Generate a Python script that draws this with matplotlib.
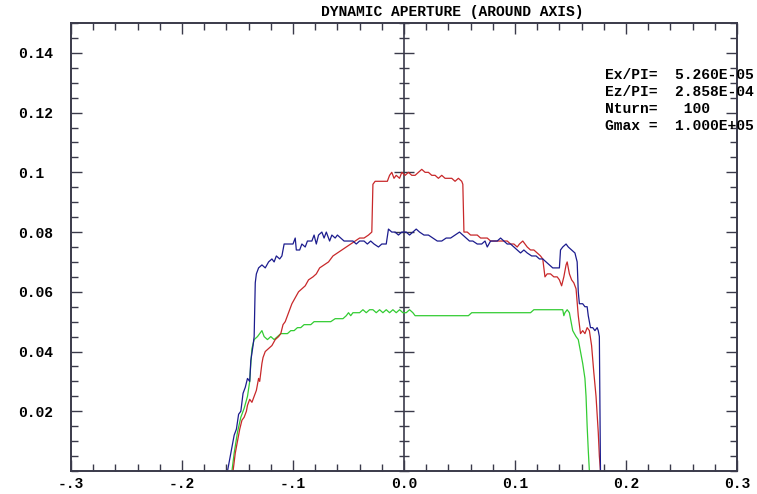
import matplotlib
matplotlib.use("Agg")
import matplotlib.pyplot as plt
from matplotlib.ticker import MultipleLocator, FixedLocator, NullFormatter

# ---------------- data ----------------
blue_x = [-0.159, -0.156, -0.153, -0.151, -0.149, -0.147, -0.145, -0.143, -0.141, -0.139,
          -0.138, -0.136, -0.135, -0.134, -0.133, -0.131, -0.128, -0.125, -0.122, -0.119,
          -0.117, -0.115, -0.112, -0.110, -0.108, -0.100, -0.098, -0.097, -0.094, -0.092,
          -0.089, -0.087, -0.083, -0.081, -0.079, -0.077, -0.074, -0.072, -0.070, -0.067,
          -0.065, -0.062, -0.060, -0.057, -0.054, -0.050, -0.046, -0.043, -0.040, -0.036,
          -0.033, -0.030, -0.027, -0.023, -0.020, -0.016, -0.014, -0.011, -0.008, -0.005,
          -0.002, 0.002, 0.005, 0.008, 0.011, 0.014, 0.018, 0.022, 0.026, 0.030,
          0.034, 0.038, 0.042, 0.046, 0.050, 0.053, 0.056, 0.059, 0.062, 0.066,
          0.070, 0.073, 0.075, 0.078, 0.081, 0.084, 0.087, 0.090, 0.093, 0.096,
          0.099, 0.102, 0.105, 0.108, 0.111, 0.115, 0.119, 0.122, 0.125, 0.128,
          0.131, 0.134, 0.137, 0.140, 0.141, 0.143, 0.146, 0.148, 0.151, 0.154,
          0.156, 0.157, 0.158, 0.161, 0.163, 0.165, 0.166, 0.168, 0.170, 0.172,
          0.174, 0.175, 0.176, 0.177]
blue_y = [0.000, 0.006, 0.012, 0.014, 0.019, 0.020, 0.026, 0.028, 0.031, 0.030,
          0.037, 0.042, 0.045, 0.063, 0.066, 0.068, 0.069, 0.068, 0.070, 0.071,
          0.070, 0.072, 0.071, 0.072, 0.076, 0.076, 0.078, 0.074, 0.074, 0.076,
          0.075, 0.077, 0.077, 0.079, 0.076, 0.079, 0.080, 0.078, 0.080, 0.077,
          0.079, 0.078, 0.079, 0.078, 0.077, 0.077, 0.077, 0.076, 0.077, 0.077,
          0.076, 0.077, 0.076, 0.075, 0.076, 0.076, 0.081, 0.080, 0.080, 0.079,
          0.080, 0.080, 0.079, 0.080, 0.081, 0.080, 0.079, 0.079, 0.078, 0.077,
          0.077, 0.078, 0.078, 0.079, 0.080, 0.079, 0.078, 0.077, 0.077, 0.076,
          0.076, 0.077, 0.075, 0.077, 0.077, 0.077, 0.078, 0.077, 0.076, 0.076,
          0.075, 0.074, 0.073, 0.074, 0.073, 0.072, 0.072, 0.071, 0.071, 0.070,
          0.069, 0.068, 0.068, 0.068, 0.074, 0.075, 0.076, 0.075, 0.074, 0.073,
          0.070, 0.060, 0.056, 0.056, 0.055, 0.055, 0.052, 0.048, 0.048, 0.047,
          0.048, 0.047, 0.045, 0.000]

red_x = [-0.154, -0.152, -0.150, -0.148, -0.146, -0.144, -0.142, -0.141, -0.139, -0.137,
         -0.135, -0.133, -0.131, -0.130, -0.128, -0.127, -0.125, -0.122, -0.119, -0.116,
         -0.113, -0.111, -0.109, -0.107, -0.105, -0.103, -0.101, -0.098, -0.095, -0.092,
         -0.089, -0.086, -0.082, -0.079, -0.076, -0.072, -0.068, -0.064, -0.060, -0.056,
         -0.052, -0.048, -0.044, -0.040, -0.036, -0.032, -0.029, -0.028, -0.026, -0.022,
         -0.018, -0.015, -0.013, -0.011, -0.009, -0.007, -0.004, -0.002, 0.001, 0.004,
         0.007, 0.010, 0.013, 0.016, 0.019, 0.022, 0.025, 0.028, 0.031, 0.034,
         0.037, 0.040, 0.043, 0.046, 0.049, 0.052, 0.053, 0.054, 0.057, 0.060,
         0.063, 0.066, 0.069, 0.072, 0.075, 0.078, 0.081, 0.084, 0.087, 0.090,
         0.093, 0.096, 0.099, 0.102, 0.104, 0.107, 0.109, 0.111, 0.114, 0.117,
         0.120, 0.123, 0.125, 0.127, 0.129, 0.132, 0.135, 0.138, 0.140, 0.142,
         0.144, 0.146, 0.147, 0.149, 0.151, 0.153, 0.155, 0.157, 0.159, 0.161,
         0.163, 0.165, 0.167, 0.169, 0.171, 0.173, 0.175, 0.176, 0.177]
red_y = [0.000, 0.006, 0.010, 0.014, 0.017, 0.018, 0.020, 0.022, 0.024, 0.023,
         0.025, 0.027, 0.031, 0.030, 0.036, 0.038, 0.040, 0.041, 0.042, 0.044,
         0.045, 0.046, 0.049, 0.050, 0.052, 0.054, 0.056, 0.058, 0.060, 0.061,
         0.062, 0.064, 0.065, 0.066, 0.068, 0.069, 0.070, 0.072, 0.073, 0.074,
         0.075, 0.076, 0.077, 0.078, 0.078, 0.079, 0.080, 0.096, 0.097, 0.097,
         0.097, 0.097, 0.099, 0.100, 0.098, 0.099, 0.098, 0.100, 0.099, 0.100,
         0.099, 0.099, 0.100, 0.101, 0.100, 0.100, 0.099, 0.099, 0.098, 0.099,
         0.098, 0.098, 0.098, 0.097, 0.098, 0.097, 0.096, 0.080, 0.080, 0.079,
         0.079, 0.079, 0.078, 0.078, 0.078, 0.077, 0.077, 0.077, 0.077, 0.077,
         0.077, 0.076, 0.076, 0.075, 0.076, 0.077, 0.076, 0.075, 0.074, 0.074,
         0.073, 0.072, 0.071, 0.065, 0.066, 0.066, 0.065, 0.065, 0.064, 0.062,
         0.065, 0.069, 0.070, 0.066, 0.064, 0.063, 0.061, 0.052, 0.046, 0.047,
         0.046, 0.048, 0.047, 0.042, 0.033, 0.025, 0.013, 0.005, 0.000]

green_x = [-0.155, -0.153, -0.150, -0.147, -0.144, -0.141, -0.139, -0.138, -0.137, -0.135,
           -0.132, -0.130, -0.128, -0.126, -0.123, -0.120, -0.117, -0.114, -0.111, -0.108,
           -0.105, -0.102, -0.099, -0.096, -0.093, -0.090, -0.087, -0.084, -0.081, -0.078,
           -0.074, -0.070, -0.066, -0.062, -0.058, -0.055, -0.052, -0.050, -0.048, -0.046,
           -0.043, -0.040, -0.037, -0.034, -0.031, -0.028, -0.025, -0.022, -0.019, -0.016,
           -0.013, -0.010, -0.007, -0.004, -0.001, 0.002, 0.005, 0.008, 0.010, 0.015,
           0.025, 0.040, 0.058, 0.061, 0.080, 0.100, 0.114, 0.117, 0.130, 0.140,
           0.143, 0.144, 0.145, 0.147, 0.149, 0.150, 0.152, 0.155, 0.157, 0.159,
           0.161, 0.163, 0.164, 0.165, 0.166, 0.167]
green_y = [0.000, 0.006, 0.013, 0.018, 0.021, 0.025, 0.030, 0.036, 0.041, 0.044,
           0.045, 0.046, 0.047, 0.045, 0.044, 0.045, 0.044, 0.045, 0.046, 0.046,
           0.046, 0.047, 0.047, 0.048, 0.048, 0.049, 0.049, 0.049, 0.050, 0.050,
           0.050, 0.050, 0.050, 0.051, 0.051, 0.051, 0.052, 0.053, 0.052, 0.053,
           0.053, 0.053, 0.054, 0.053, 0.054, 0.054, 0.053, 0.054, 0.053, 0.054,
           0.053, 0.054, 0.053, 0.054, 0.053, 0.053, 0.054, 0.053, 0.052, 0.052,
           0.052, 0.052, 0.052, 0.053, 0.053, 0.053, 0.053, 0.054, 0.054, 0.054,
           0.054, 0.052, 0.053, 0.054, 0.053, 0.051, 0.047, 0.045, 0.044, 0.040,
           0.036, 0.031, 0.025, 0.015, 0.007, 0.000]

x_ticks = [-0.3, -0.2, -0.1, 0.0, 0.1, 0.2, 0.3]
x_tick_labels = ["-.3", "-.2", "-.1", "0.0", "0.1", "0.2", "0.3"]
y_ticks = [0.02, 0.04, 0.06, 0.08, 0.10, 0.12, 0.14]
y_tick_labels = ["0.02", "0.04", "0.06", "0.08", "0.1", "0.12", "0.14"]

title = "DYNAMIC APERTURE (AROUND AXIS)"
info_lines = ["Ex/PI=  5.260E-05",
              "Ez/PI=  2.858E-04",
              "Nturn=   100",
              "Gmax =  1.000E+05"]

# ---------------- figure ----------------
W, H = 757, 494
fig = plt.figure(figsize=(W / 100, H / 100), dpi=100)
ax = fig.add_axes([71 / W, 1 - 471 / H, (737 - 71) / W, (471 - 23) / H])

FONT = dict(family="Liberation Mono", weight="bold", size=10.5)
frame_col = "#3a3a4a"

ax.plot(green_x, green_y, color="#33cc33", lw=0.9)
ax.plot(red_x, red_y, color="#c8282a", lw=0.9)
ax.plot(blue_x, blue_y, color="#1c1c8e", lw=0.9)

ax.set_xlim(-0.3, 0.3)
ax.set_ylim(0.0, 0.15)

for s in ax.spines.values():
    s.set_color(frame_col)
    s.set_linewidth(1.4)

ax.xaxis.set_major_locator(FixedLocator(x_ticks))
ax.xaxis.set_minor_locator(MultipleLocator(0.02))
ax.yaxis.set_major_locator(FixedLocator(y_ticks))
ax.yaxis.set_minor_locator(MultipleLocator(0.005))
ax.set_xticklabels(x_tick_labels)
ax.set_yticklabels(y_tick_labels)

ax.tick_params(which="both", direction="in", top=True, right=True, color=frame_col, width=1.0)
ax.tick_params(which="major", length=8)
ax.tick_params(which="minor", length=5)
ax.tick_params(axis="x", which="major", pad=4)
ax.tick_params(axis="y", which="major", pad=38)
for lab in ax.get_yticklabels():
    lab.set_horizontalalignment("left")
    lab.set_fontproperties(matplotlib.font_manager.FontProperties(**FONT))
for lab in ax.get_xticklabels():
    lab.set_fontproperties(matplotlib.font_manager.FontProperties(**FONT))

# central vertical axis at x = 0 with crossing ticks
sec = ax.secondary_yaxis(0.5)
for sname, sp in sec.spines.items():
    sp.set_color(frame_col)
    sp.set_linewidth(1.2)
sec.yaxis.set_major_locator(FixedLocator(y_ticks))
sec.yaxis.set_minor_locator(MultipleLocator(0.005))
sec.yaxis.set_major_formatter(NullFormatter())
sec.yaxis.set_minor_formatter(NullFormatter())
sec.tick_params(which="both", direction="inout", color=frame_col, width=1.0,
                labelleft=False, labelright=False)
sec.tick_params(which="major", length=15)
sec.tick_params(which="minor", length=7)

fig.text(452 / W, 1 - 12 / H, title, ha="center", va="center", **FONT)

for i, line in enumerate(info_lines):
    fig.text(605 / W, 1 - (75 + 17 * i) / H, line, ha="left", va="center", **FONT)

fig.savefig("out.png", dpi=100)
